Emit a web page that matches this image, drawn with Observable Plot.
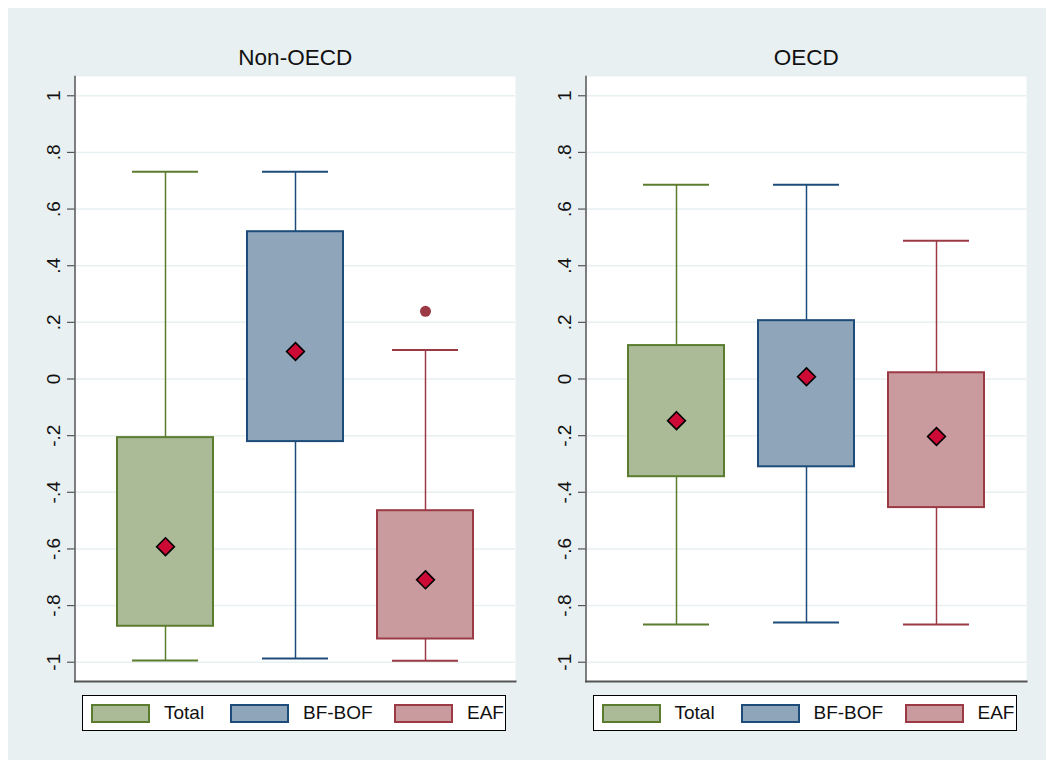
<!DOCTYPE html>
<html>
<head>
<meta charset="utf-8">
<script src="https://cdn.jsdelivr.net/npm/d3@7"></script>
<script src="https://cdn.jsdelivr.net/npm/@observablehq/plot@0.6"></script>
<style>
  html, body { margin: 0; padding: 0; background: #ffffff; }
  #page { position: relative; width: 1053px; height: 767px; background: #ffffff; font-family: "Liberation Sans", Arial, sans-serif; }
  #bg { position: absolute; left: 8px; top: 8px; width: 1038px; height: 752px; background: #e8f0f2; }
  .panel { position: absolute; top: 0; }
  .legend { position: absolute; top: 695px; width: 424px; height: 36px; box-sizing: border-box; border: 1px solid #000; background: #fff; }
  .sw { position: absolute; top: 8px; width: 59px; height: 19px; box-sizing: border-box; border: 2px solid; }
  .lt { position: absolute; top: 6px; font-size: 19px; color: #111; line-height: 22px; }
</style>
</head>
<body>
<div id="page"><div id="bg"></div></div>
<script>
// ---- data ----
const groups = ["Total", "BF-BOF", "EAF"];
const panelTitles = ["Non-OECD", "OECD"];
const fillColors = ["#abba97", "#8fa5b9", "#c99a9e"];
const strokeColors = ["#5b7c2e", "#1e4c7a", "#9b3a44"];

const nonOecdLow  = [-0.994, -0.987, -0.995];
const nonOecdQ1   = [-0.873, -0.221, -0.918];
const nonOecdQ3   = [-0.207,  0.520, -0.465];
const nonOecdHigh = [ 0.732,  0.732,  0.102];
const nonOecdMean = [-0.592,  0.097, -0.709];
const nonOecdOutlierGroup = ["EAF"];
const nonOecdOutlierValue = [0.239];

const oecdLow  = [-0.867, -0.860, -0.867];
const oecdQ1   = [-0.345, -0.310, -0.454];
const oecdQ3   = [ 0.118,  0.206,  0.022];
const oecdHigh = [ 0.686,  0.686,  0.488];
const oecdMean = [-0.147,  0.008, -0.203];
const oecdOutlierGroup = [];
const oecdOutlierValue = [];

const tickValues = [-1, -0.8, -0.6, -0.4, -0.2, 0, 0.2, 0.4, 0.6, 0.8, 1];
const tickLabels = ["-1", "-.8", "-.6", "-.4", "-.2", "0", ".2", ".4", ".6", ".8", "1"];

function buildRows(low, q1, q3, high, mean) {
  return groups.map((g, i) => ({group: g, low: low[i], q1: q1[i], q3: q3[i], high: high[i], mean: mean[i]}));
}

const panelsData = [
  {title: panelTitles[0], rows: buildRows(nonOecdLow, nonOecdQ1, nonOecdQ3, nonOecdHigh, nonOecdMean),
   outliers: nonOecdOutlierGroup.map((g, i) => ({group: g, value: nonOecdOutlierValue[i]}))},
  {title: panelTitles[1], rows: buildRows(oecdLow, oecdQ1, oecdQ3, oecdHigh, oecdMean),
   outliers: oecdOutlierGroup.map((g, i) => ({group: g, value: oecdOutlierValue[i]}))}
];

const page = document.getElementById("page");
const offsets = [0, 510.5];
const strokeOf = (d) => strokeColors[groups.indexOf(d.group)];

panelsData.forEach((p, k) => {
  const chart = Plot.plot({
    width: 515,
    height: 691,
    marginLeft: 74.5,
    marginRight: 0,
    marginTop: 76,
    marginBottom: 10,
    style: {background: "transparent", fontFamily: "Liberation Sans, Arial, sans-serif", overflow: "visible"},
    x: {type: "band", domain: groups, paddingInner: 0.264, paddingOuter: 0.318, axis: null},
    y: {domain: [-1.068, 1.068], axis: null},
    color: {domain: groups, range: fillColors},
    marks: [
      Plot.frame({fill: "#ffffff", stroke: null}),
      Plot.gridY(tickValues, {stroke: "#e8f0f2", strokeOpacity: 1, strokeWidth: 1.5}),
      Plot.axisY({ticks: tickValues, tickFormat: (d) => tickLabels[tickValues.indexOf(d)], tickSize: 7.5, tickPadding: 8,
        tickRotate: -90, fontSize: 19, stroke: "#555", strokeWidth: 1.2, color: "#111"}),
      Plot.ruleX(p.rows, {x: "group", y1: "low", y2: "q1", stroke: strokeOf, strokeWidth: 1.5}),
      Plot.ruleX(p.rows, {x: "group", y1: "q3", y2: "high", stroke: strokeOf, strokeWidth: 1.5}),
      Plot.tickY(p.rows, {x: "group", y: "low", stroke: strokeOf, strokeWidth: 2, insetLeft: 15, insetRight: 15}),
      Plot.tickY(p.rows, {x: "group", y: "high", stroke: strokeOf, strokeWidth: 2, insetLeft: 15, insetRight: 15}),
      Plot.barY(p.rows, {x: "group", y1: "q1", y2: "q3", fill: "group", stroke: strokeOf, strokeWidth: 2}),
      Plot.dot(p.outliers, {x: "group", y: "value", r: 5.5, fill: strokeOf, stroke: null}),
      Plot.dot(p.rows, {x: "group", y: "mean", symbol: "diamond2", r: 8, fill: "#cc0a35", stroke: "#000", strokeWidth: 1.6}),
      Plot.frame({anchor: "left", stroke: "#555", strokeWidth: 1.5}),
      Plot.frame({anchor: "bottom", stroke: "#555", strokeWidth: 2}),
      Plot.text([p.title], {frameAnchor: "top", dy: -27, fontSize: 22.5, fill: "#111"})
    ]
  });
  chart.classList.add("panel");
  chart.style.left = offsets[k] + "px";
  page.appendChild(chart);

  const lg = document.createElement("div");
  lg.className = "legend";
  lg.style.left = (82 + offsets[k]) + "px";
  const swX = [8, 147, 311];
  const txX = [81, 220, 384];
  groups.forEach((g, i) => {
    const sw = document.createElement("div");
    sw.className = "sw";
    sw.style.left = swX[i] + "px";
    sw.style.background = fillColors[i];
    sw.style.borderColor = strokeColors[i];
    lg.appendChild(sw);
    const t = document.createElement("div");
    t.className = "lt";
    t.style.left = txX[i] + "px";
    t.textContent = g;
    lg.appendChild(t);
  });
  page.appendChild(lg);
});
</script>
</body>
</html>
